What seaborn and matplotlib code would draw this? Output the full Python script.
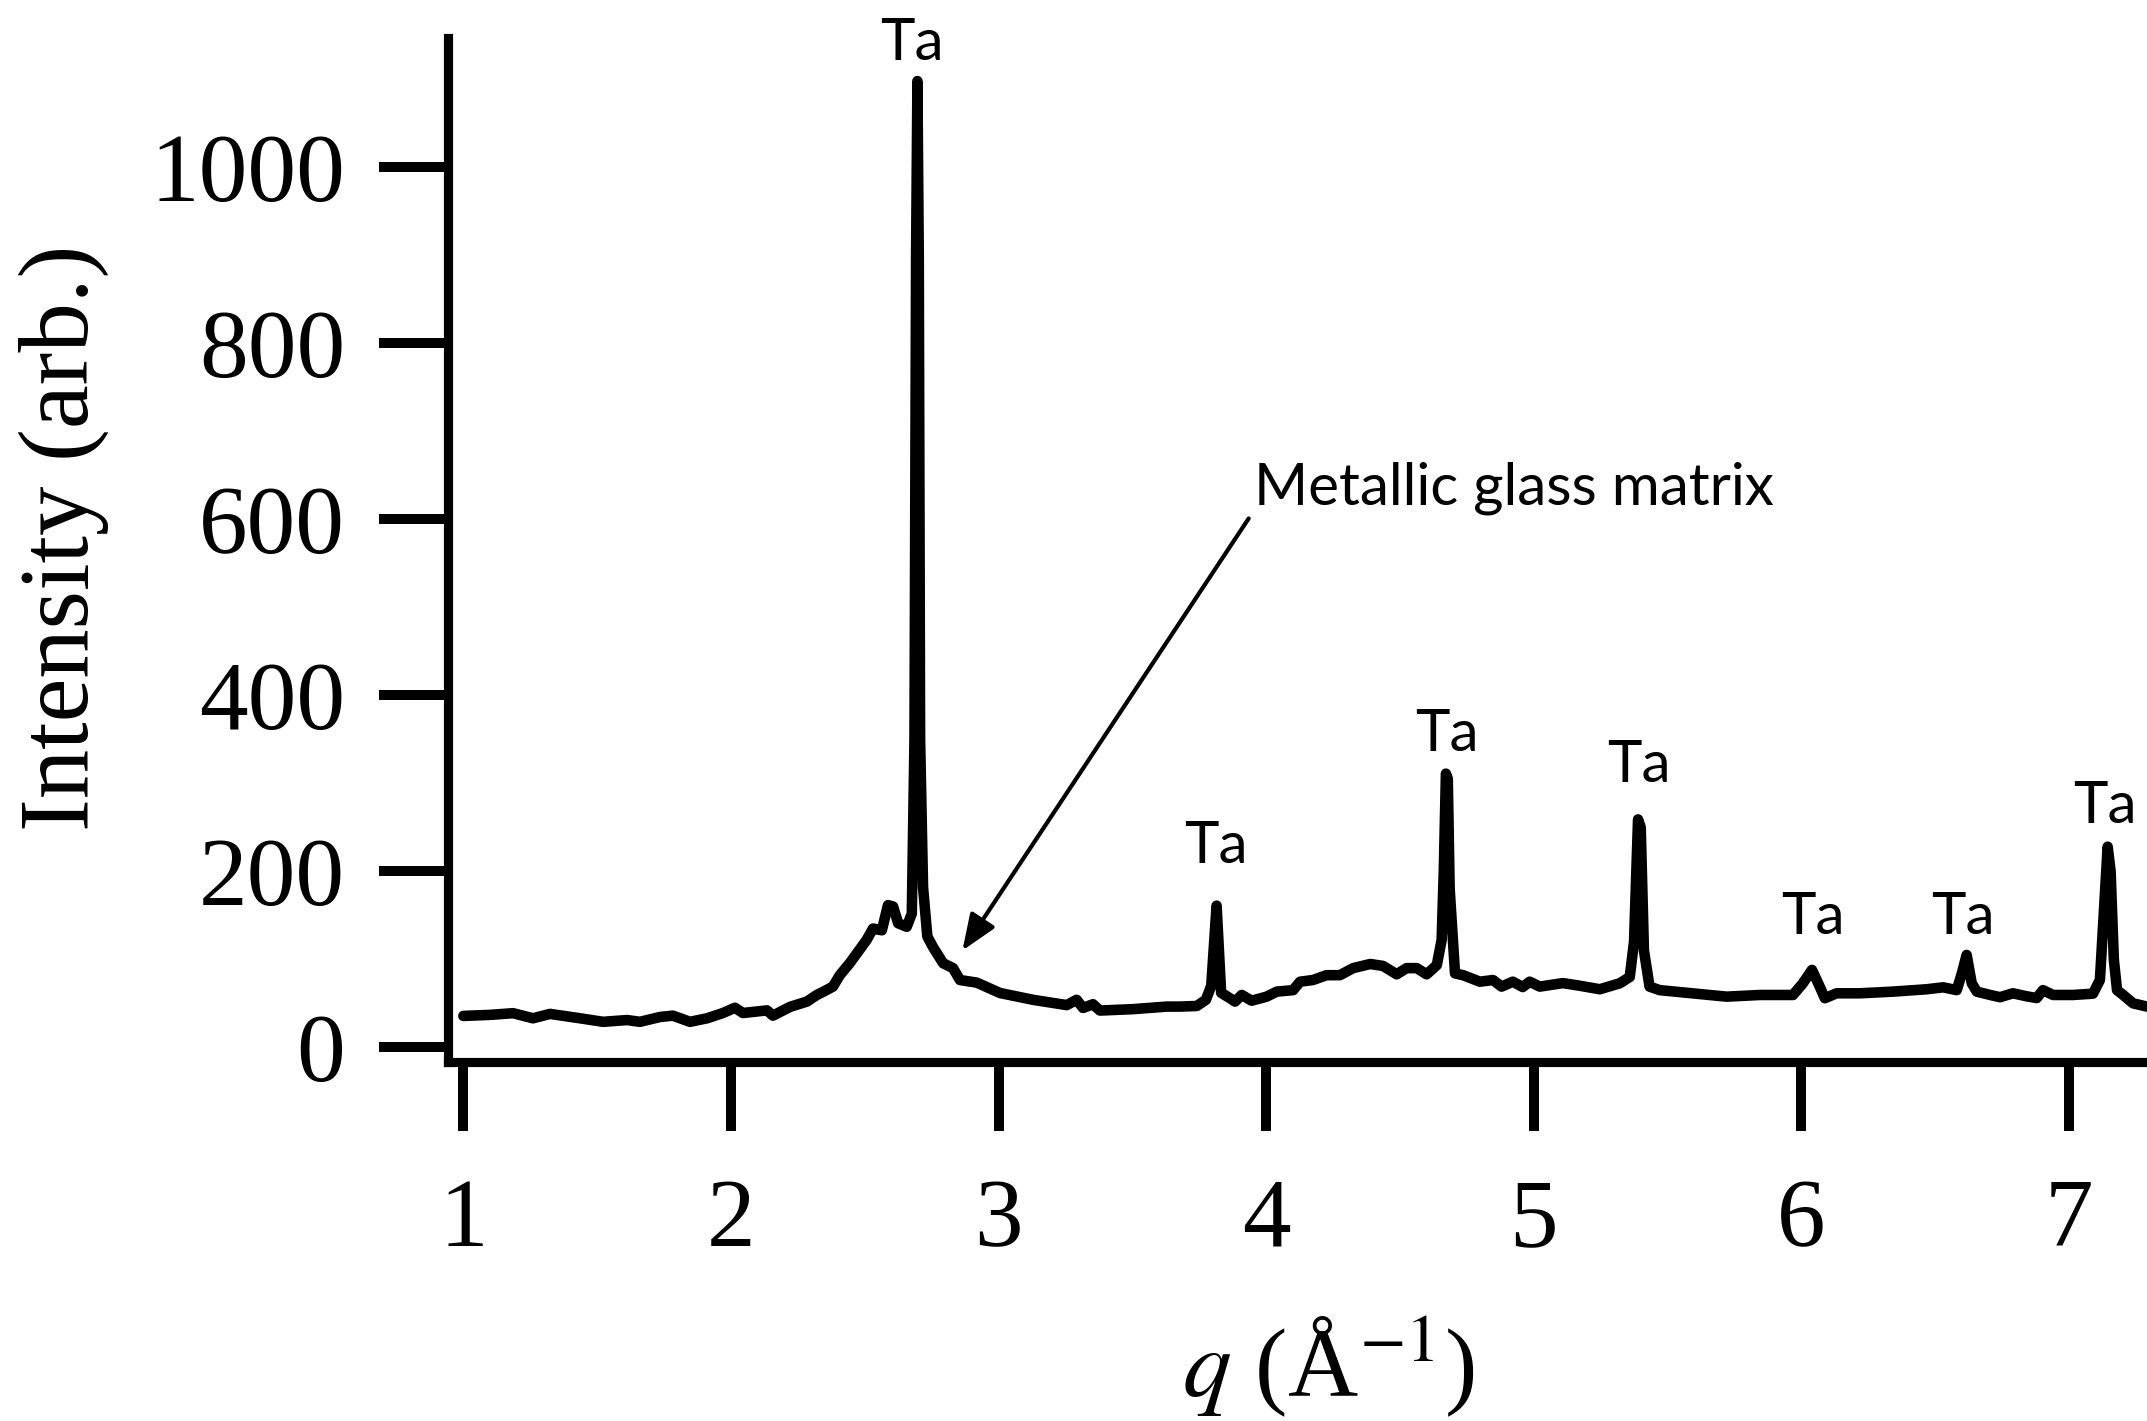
import numpy as np
import pandas as pd
import matplotlib
matplotlib.use("Agg")
import matplotlib.pyplot as plt
import seaborn as sns

# ---- data ----
q_values = [
    1.000, 1.100, 1.186, 1.260, 1.324, 1.436, 1.522, 1.612, 1.660, 1.735,
    1.783, 1.847, 1.911, 1.970, 2.015, 2.045, 2.135, 2.157, 2.221, 2.284,
    2.321, 2.344, 2.381, 2.407, 2.444, 2.507, 2.531, 2.564, 2.587, 2.606,
    2.625, 2.657, 2.676, 2.686, 2.692, 2.697, 2.702, 2.707, 2.718, 2.734,
    2.755, 2.793, 2.830, 2.856, 2.919, 3.006, 3.129, 3.255, 3.292, 3.316,
    3.353, 3.379, 3.503, 3.629, 3.678, 3.741, 3.775, 3.795, 3.806, 3.815,
    3.823, 3.832, 3.865, 3.884, 3.909, 3.946, 4.002, 4.040, 4.101, 4.127,
    4.175, 4.226, 4.276, 4.325, 4.389, 4.437, 4.488, 4.525, 4.563, 4.600,
    4.638, 4.656, 4.664, 4.672, 4.679, 4.686, 4.706, 4.736, 4.799, 4.848,
    4.880, 4.922, 4.959, 4.985, 5.023, 5.109, 5.172, 5.247, 5.322, 5.359,
    5.375, 5.390, 5.400, 5.412, 5.433, 5.471, 5.594, 5.721, 5.846, 5.969,
    6.006, 6.040, 6.069, 6.088, 6.132, 6.219, 6.342, 6.469, 6.530, 6.581,
    6.600, 6.618, 6.637, 6.656, 6.706, 6.743, 6.791, 6.842, 6.880, 6.903,
    6.941, 7.015, 7.090, 7.116, 7.130, 7.145, 7.156, 7.168, 7.180, 7.203,
    7.240, 7.292,
]
intensity = [
    35.7, 36.9, 38.8, 33.0, 38.0, 33.0, 29.0, 31.0, 29.0, 34.5,
    36.0, 29.0, 33.0, 39.0, 45.0, 39.0, 42.0, 36.0, 46.0, 52.0,
    59.5, 63.0, 69.0, 82.0, 95.6, 122.0, 135.0, 133.0, 161.6, 160.0,
    141.0, 137.0, 152.0, 350.0, 900.0, 1098.0, 900.0, 350.0, 182.0, 126.0,
    114.0, 95.6, 90.0, 76.5, 73.5, 61.7, 54.0, 48.0, 54.0, 44.7,
    49.0, 41.8, 43.4, 46.3, 46.3, 47.0, 54.0, 70.0, 120.0, 161.0,
    115.0, 62.0, 55.8, 52.0, 59.5, 53.0, 57.6, 63.3, 65.0, 74.6,
    76.5, 82.0, 82.0, 90.0, 94.7, 92.5, 83.0, 90.0, 90.0, 83.0,
    93.5, 122.0, 200.0, 311.0, 305.0, 180.0, 84.0, 82.0, 74.6, 76.5,
    69.0, 74.6, 68.5, 74.6, 69.0, 73.0, 70.0, 66.0, 72.8, 80.0,
    120.0, 259.0, 250.0, 110.0, 69.0, 65.0, 61.4, 57.6, 59.5, 59.5,
    72.8, 88.0, 69.0, 55.8, 61.4, 61.4, 63.3, 66.0, 68.2, 65.0,
    84.0, 105.0, 72.8, 63.3, 59.5, 57.0, 61.4, 58.0, 56.0, 65.0,
    59.5, 59.5, 61.0, 76.5, 150.0, 228.0, 200.0, 100.0, 65.0, 59.5,
    50.0, 46.3,
]

ta_q = [2.676, 3.812, 4.676, 5.394, 6.044, 6.604, 7.136]
ta_y = [1141, 228, 355, 320, 148, 148, 274]
ta_text = "Ta"

annot_text = "Metallic glass matrix"
annot_xy = (2.865, 110)
annot_text_xy = (3.935, 601)
annot_label_xy = (3.955, 617)

x_ticks = [1, 2, 3, 4, 5, 6, 7]
y_ticks = [0, 200, 400, 600, 800, 1000]
x_label = r"$q$ (Å$^{-1}$)"
y_label = "Intensity (arb.)"

# ---- styling ----
sns.set_style("white")
plt.rcParams["font.family"] = ["Liberation Serif", "DejaVu Serif"]
plt.rcParams["mathtext.fontset"] = "stix"

df = pd.DataFrame({"q": q_values, "I": intensity})

fig = plt.figure(figsize=(10.735, 7.105), dpi=200)
ax = fig.add_axes([0.2087, 0.2528, 0.7913, 0.7205])

sns.lineplot(data=df, x="q", y="I", ax=ax, color="black", linewidth=3.8,
             estimator=None, sort=False)
for ln in ax.get_lines():
    ln.set_solid_joinstyle("round")
    ln.set_solid_capstyle("round")
    ln.set_clip_on(False)

ax.set_xlim(0.943, 7.292)
ax.set_ylim(-16.4, 1147)

for side in ["top", "right"]:
    ax.spines[side].set_visible(False)
for side in ["left", "bottom"]:
    ax.spines[side].set_linewidth(3.3)
    ax.spines[side].set_color("black")
    ax.spines[side].set_capstyle("projecting")

ax.set_xticks(x_ticks)
ax.set_yticks(y_ticks)
ax.set_xticklabels([str(v) for v in x_ticks])
ax.set_yticklabels([str(v) for v in y_ticks])
ax.tick_params(axis="both", which="major", direction="out", length=25,
               width=3.6, color="black", labelsize=35, labelcolor="black",
               bottom=True, left=True, top=False, right=False)
ax.tick_params(axis="x", pad=17)
ax.tick_params(axis="y", pad=12)

ax.set_xlabel(x_label, fontsize=35, color="black")
ax.set_ylabel(y_label, fontsize=35.5, color="black")
ax.xaxis.set_label_coords(0.518, -0.297)
ax.xaxis.label.set_va("center")
ax.yaxis.set_label_coords(-0.226, 0.512)
ax.yaxis.label.set_va("center")

sans = ["Lato", "DejaVu Sans"]
for xq, yv in zip(ta_q, ta_y):
    ax.text(xq, yv, ta_text, ha="center", va="center", fontsize=21,
            family=sans, color="black")

ax.annotate("", xy=annot_xy, xytext=annot_text_xy,
            arrowprops=dict(arrowstyle="-|>,head_length=0.55,head_width=0.22",
                            mutation_scale=20, color="black", lw=1.5,
                            shrinkA=0, shrinkB=0))
ax.text(annot_label_xy[0], annot_label_xy[1], annot_text, ha="left",
        va="baseline", fontsize=21, family=sans, color="black")

fig.savefig("out.png", dpi=200, facecolor="white")
